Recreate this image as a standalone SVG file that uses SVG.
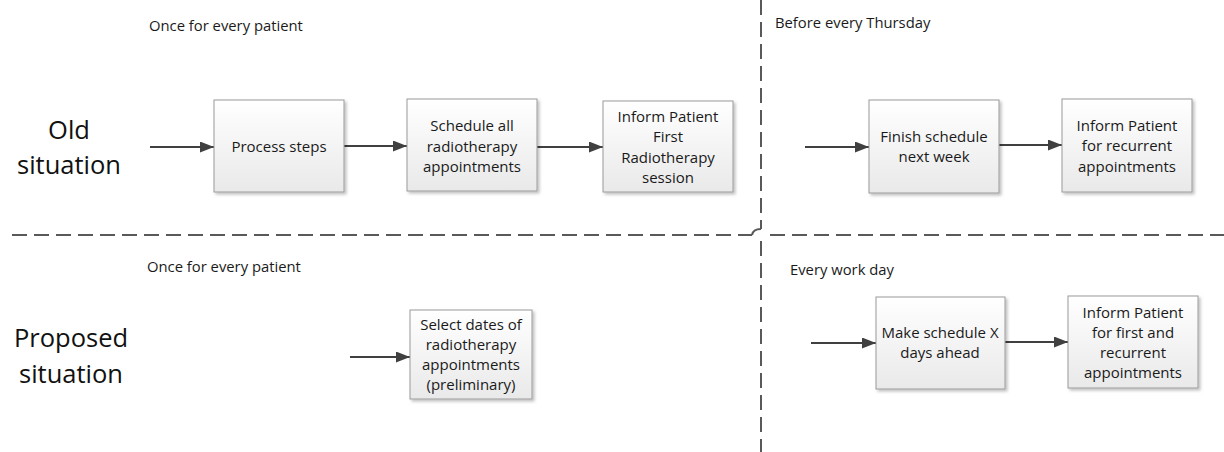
<svg xmlns="http://www.w3.org/2000/svg" width="1224" height="452" viewBox="0 0 1224 452">
  <style>
    .box { fill: url(#boxFill); stroke: #9a9a9a; stroke-width: 1; filter: url(#shadow); }
    .txt { font-family: "Open Sans", "Liberation Sans", sans-serif; font-size: 15px; fill: #1a1a1a; text-anchor: middle; }
    .lbl { font-family: "Open Sans", "Liberation Sans", sans-serif; font-size: 14.8px; fill: #1a1a1a; }
    .big { font-family: "Open Sans", "Liberation Sans", sans-serif; font-size: 25.5px; fill: #111; text-anchor: middle; }
    .arrow { stroke: #404040; stroke-width: 2; fill: none; marker-end: url(#head); }
    .divider { stroke: #595959; stroke-width: 2; fill: none; stroke-dasharray: 15 7; }
  </style>
  <defs>
    <linearGradient id="boxFill" x1="0" y1="0" x2="0" y2="1">
      <stop offset="0" stop-color="#ffffff"/>
      <stop offset="1" stop-color="#e9e9e9"/>
    </linearGradient>
    <filter id="shadow" x="-10%" y="-10%" width="130%" height="130%">
      <feDropShadow dx="2" dy="2" stdDeviation="1.5" flood-color="#000" flood-opacity="0.25"/>
    </filter>
    <marker id="head" viewBox="0 0 14 11" refX="14" refY="5.5" markerWidth="14" markerHeight="11" markerUnits="userSpaceOnUse" orient="auto">
      <path d="M0,0 L14,5.5 L0,11 z" fill="#404040"/>
    </marker>
  </defs>

  <!-- quadrant dividers -->
  <g id="dividers">
    <path class="divider" d="M761,0 V229"/>
    <path class="divider" d="M761,241 V452"/>
    <path class="divider" d="M12,235 H752"/>
    <path d="M752,235 Q753,229 761,229" stroke="#595959" stroke-width="2" fill="none"/>
    <path class="divider" d="M770,235 H1224"/>
  </g>

  <!-- row and section captions -->
  <g id="captions">
    <text class="big" x="69" y="139">Old</text>
    <text class="big" x="69" y="174">situation</text>
    <text class="big" x="71" y="347">Proposed</text>
    <text class="big" x="71" y="383">situation</text>
    <text class="lbl" x="149" y="31">Once for every patient</text>
    <text class="lbl" x="775" y="28">Before every Thursday</text>
    <text class="lbl" x="147" y="272">Once for every patient</text>
    <text class="lbl" x="790" y="275">Every work day</text>
  </g>

  <!-- connectors -->
  <g id="connectors">
    <path class="arrow" d="M150,147 H214"/>
    <path class="arrow" d="M344,146 H407"/>
    <path class="arrow" d="M537,147 H603"/>
    <path class="arrow" d="M805,147 H869"/>
    <path class="arrow" d="M999,145 H1062"/>
    <path class="arrow" d="M350,357 H410"/>
    <path class="arrow" d="M811,343 H876"/>
    <path class="arrow" d="M1005,342 H1068"/>
  </g>

  <g id="process-steps">
    <rect class="box" x="214" y="100" width="130" height="92"/>
    <text class="txt" x="279" y="152">Process steps</text>
  </g>

  <g id="schedule-all">
    <rect class="box" x="407" y="99" width="130" height="92"/>
    <text class="txt" x="472" y="131">Schedule all</text>
    <text class="txt" x="472" y="152">radiotherapy</text>
    <text class="txt" x="472" y="172">appointments</text>
  </g>

  <g id="inform-first">
    <rect class="box" x="603" y="101" width="130" height="91"/>
    <text class="txt" x="668" y="122">Inform Patient</text>
    <text class="txt" x="668" y="142">First</text>
    <text class="txt" x="668" y="163">Radiotherapy</text>
    <text class="txt" x="668" y="183">session</text>
  </g>

  <g id="finish-schedule">
    <rect class="box" x="869" y="100" width="130" height="93"/>
    <text class="txt" x="934" y="142">Finish schedule</text>
    <text class="txt" x="934" y="162">next week</text>
  </g>

  <g id="inform-recurrent">
    <rect class="box" x="1062" y="99" width="130" height="93"/>
    <text class="txt" x="1127" y="131">Inform Patient</text>
    <text class="txt" x="1127" y="151">for recurrent</text>
    <text class="txt" x="1127" y="172">appointments</text>
  </g>

  <g id="select-dates">
    <rect class="box" x="410" y="310" width="122" height="89"/>
    <text class="txt" x="471" y="330">Select dates of</text>
    <text class="txt" x="471" y="350">radiotherapy</text>
    <text class="txt" x="471" y="370">appointments</text>
    <text class="txt" x="471" y="390">(preliminary)</text>
  </g>

  <g id="make-schedule">
    <rect class="box" x="876" y="297" width="129" height="92"/>
    <text class="txt" x="940" y="338">Make schedule X</text>
    <text class="txt" x="940" y="358">days ahead</text>
  </g>

  <g id="inform-first-recurrent">
    <rect class="box" x="1068" y="296" width="130" height="92"/>
    <text class="txt" x="1133" y="318">Inform Patient</text>
    <text class="txt" x="1133" y="338">for first and</text>
    <text class="txt" x="1133" y="358">recurrent</text>
    <text class="txt" x="1133" y="378">appointments</text>
  </g>
</svg>
